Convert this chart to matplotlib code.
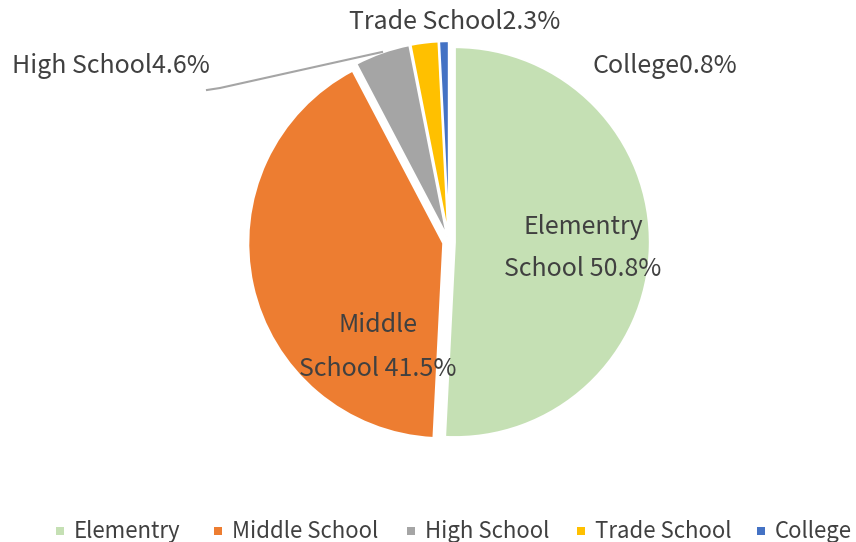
import matplotlib.pyplot as plt
from matplotlib.patches import Rectangle

plt.rcParams['font.family'] = ['Noto Sans CJK SC', 'DejaVu Sans']

labels = ["Elementry", "Middle School", "High School", "Trade School", "College"]
shares = [50.8, 41.5, 4.6, 2.3, 0.8]
colors = ["#C5E0B4", "#ED7D31", "#A5A5A5", "#FFC000", "#4472C4"]
label_text = ["Elementry\nSchool 50.8%", "Middle\nSchool 41.5%", "High School4.6%",
              "Trade School2.3%", "College0.8%"]

W, H = 856, 542
fig = plt.figure(figsize=(W / 100, H / 100), dpi=100)

# pie centre and radius in pixels
cx, cy, rad = 449, 242, 195
lim = 1.1
side = 2 * lim * rad
ax = fig.add_axes([(cx - side / 2) / W, (H - cy - side / 2) / H, side / W, side / H])

wedges, _ = ax.pie(shares, colors=colors, startangle=90, counterclock=False,
                   explode=[0.03] * len(shares), radius=1,
                   wedgeprops=dict(edgecolor="white", linewidth=1.5))
ax.set_xlim(-lim, lim)
ax.set_ylim(-lim, lim)
ax.set_aspect("equal")
ax.axis("off")

txt = dict(color="#404040", fontsize=18)


def px(x, y):
    return x / W, 1 - y / H


fig.text(*px(583, 248), label_text[0], ha="center", va="center", linespacing=1.85, **txt)
fig.text(*px(378, 347), label_text[1], ha="center", va="center", linespacing=1.85, **txt)
fig.text(*px(12, 66), label_text[2], ha="left", va="center", **txt)
fig.text(*px(455, 22), label_text[3], ha="center", va="center", **txt)
fig.text(*px(665, 66), label_text[4], ha="center", va="center", **txt)

# leader line for the small grey slice
fig.add_artist(plt.Line2D([207 / W, 220 / W, 382 / W],
                          [1 - 90 / H, 1 - 88 / H, 1 - 52 / H],
                          color="#A5A5A5", linewidth=1.5))

# legend row: small square + label on a shared baseline
key_x = [60, 218, 411, 581, 761]
sq = 8
for x, lab, col in zip(key_x, labels, colors):
    fig.add_artist(Rectangle(((x - sq / 2) / W, 1 - (531 + sq / 2) / H), sq / W, sq / H,
                             facecolor=col, edgecolor="none", transform=fig.transFigure))
    fig.text(*px(x + 14, 538), lab, ha="left", va="baseline", color="#404040", fontsize=16)

fig.savefig("out.png", dpi=100)
